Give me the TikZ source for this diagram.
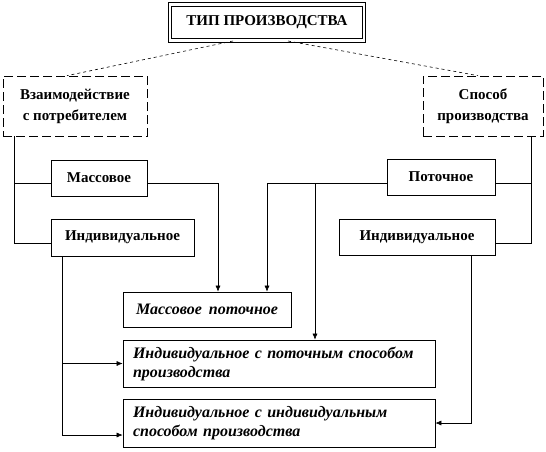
\documentclass[tikz,border=0pt]{standalone}
\usepackage{fontspec}
\setmainfont{Liberation Serif}
\usetikzlibrary{arrows.meta}
\newcommand\resfont{\fontsize{16}{19}\selectfont\bfseries\itshape\spaceskip=7pt plus 1pt\relax}

\begin{document}
\begin{tikzpicture}[x=1pt,y=-1pt,
    box/.style={draw,line width=0.7pt,inner sep=0pt,font=\fontsize{15}{21}\selectfont\bfseries,align=center},
    catbox/.style={box,dash pattern=on 9pt off 4pt},
    headbox/.style={box,double,double distance=2.2pt,line width=1pt},
    resbox/.style={box,font=\resfont},
    link/.style={line width=0.6pt},
    arr/.style={link,-{Latex[length=6pt,width=5pt]}}]
  \useasboundingbox (0,0) rectangle (546,451);
  \node[headbox,minimum width=194pt,minimum height=36pt] (top) at (267,22.5) {ТИП ПРОИЗВОДСТВА};
  \node[catbox,minimum width=144pt,minimum height=60pt] (vz) at (75,106) {Взаимодействие\\с потребителем};
  \node[catbox,minimum width=120pt,minimum height=60pt] (sp) at (483,106) {Способ\\производства};
  \node[box,minimum width=96pt,minimum height=36pt] (mass) at (99,178) {Массовое};
  \node[box,minimum width=143pt,minimum height=37pt] (indl) at (122.5,237.5) {Индивидуальное};
  \node[box,minimum width=108pt,minimum height=36pt] (flow) at (441,177) {Поточное};
  \node[box,minimum width=156pt,minimum height=36pt] (indr) at (417,237) {Индивидуальное};
  \node[resbox,minimum width=168pt,minimum height=35pt] (mp) at (207,309.5) {Массовое поточное};
  \node[resbox,minimum width=312pt,minimum height=47pt,align=left,text width=292pt] (ip) at (279,363.5)
    {Индивидуальное с поточным способом\\производства};
  \node[resbox,minimum width=312pt,minimum height=48pt,align=left,text width=292pt] (ii) at (279,423)
    {Индивидуальное с индивидуальным\\способом производства};
  % from the head
  \draw[link,dashed] ([xshift=-34pt]top.south) -- ([xshift=-8pt]vz.north);
  \draw[link,dashed] ([xshift=21pt]top.south) -- ([xshift=-5pt]sp.north);
  % kinds
  \draw[link] ([xshift=12pt]vz.south west) |- ([yshift=-5pt]mass.west);
  \draw[link] ([xshift=12pt]vz.south west) |- ([yshift=-6pt]indl.west);
  \draw[link] ([xshift=-12pt]sp.south east) |- ([yshift=-6pt]flow.east);
  \draw[link] ([xshift=-12pt]sp.south east) |- ([yshift=-6pt]indr.east);
  % results
  \coordinate (fl) at ([yshift=-6pt]flow.west);
  \coordinate (ipn) at ([xshift=36pt]ip.north);
  \draw[arr] ([yshift=-5pt]mass.east) -| ([xshift=11pt]mp.north);
  \draw[arr] (fl) -| ([xshift=60pt]mp.north);
  \draw[arr] (fl -| ipn) -- (ipn);
  \draw[arr] ([xshift=12pt]indl.south west) |- (ip.west);
  \draw[arr] ([xshift=12pt]indl.south west) |- ([yshift=-12pt]ii.west);
  \draw[arr] ([xshift=-24pt]indr.south east) |- (ii.east);
\end{tikzpicture}
\end{document}
